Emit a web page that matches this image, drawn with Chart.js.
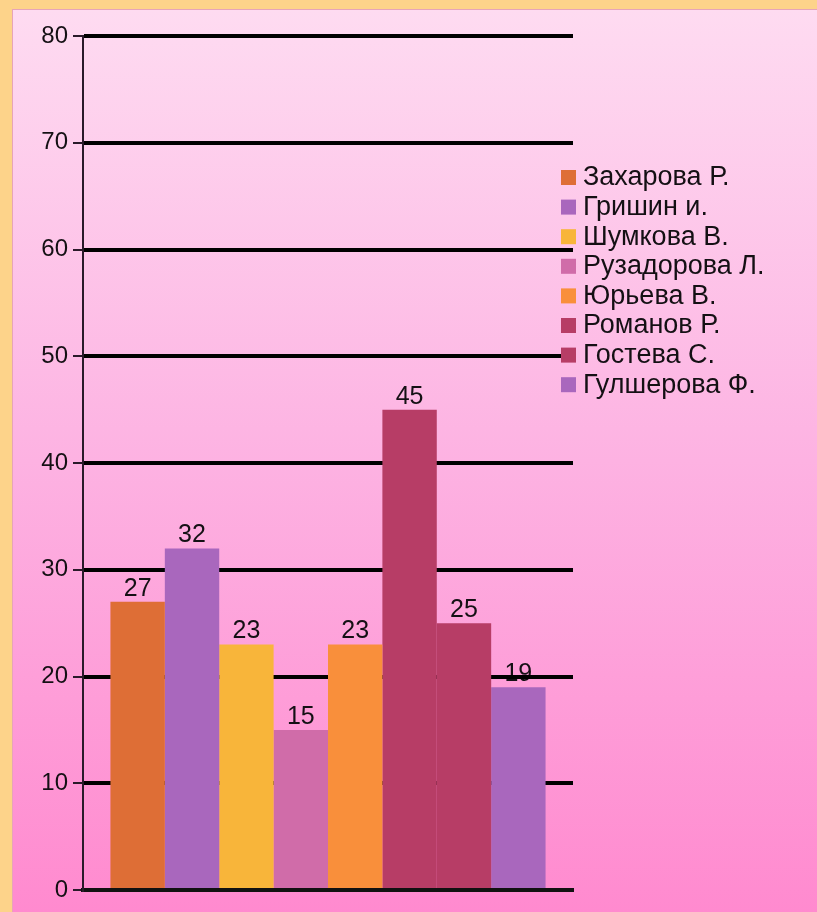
<!DOCTYPE html>
<html>
<head>
<meta charset="utf-8">
<script src="https://cdn.jsdelivr.net/npm/chart.js@4.4.1/dist/chart.umd.min.js"></script>
<style>
  html, body { margin: 0; padding: 0; }
  body { width: 817px; height: 912px; background: #fdd38a; position: relative; overflow: hidden; }
  #panel {
    position: absolute; left: 12px; top: 9px; right: 0; bottom: 0;
    background: linear-gradient(#fedbf1, #fdb2e2 50%, #ff8acf);
    border-left: 1px solid #e7a4b8; border-top: 1px solid #e7a4b8;
  }
  #chart { position: absolute; left: 0; top: 0; }
</style>
</head>
<body>
<div id="panel"></div>
<canvas id="chart" width="817" height="912"></canvas>
<script>
const names = ['Захарова Р.', 'Гришин и.', 'Шумкова В.', 'Рузадорова Л.', 'Юрьева В.', 'Романов Р.', 'Гостева С.', 'Гулшерова Ф.'];
const values = [27, 32, 23, 15, 23, 45, 25, 19];
const colors = ['#de6e36', '#a967bd', '#f8b53a', '#d06ca9', '#f98f3b', '#b73d66', '#b73d66', '#a967bd'];
const yMin = 0, yMax = 80, yStep = 10;

const font = 'Liberation Sans, Arial, sans-serif';

// value labels above bars (drawn before grid so lines pass over them like the original)
const valueLabels = {
    id: 'valueLabels',
    beforeDraw(chart) {
        const c = chart.ctx;
        c.save();
        c.font = '25px ' + font;
        c.fillStyle = '#141014';
        c.textAlign = 'center';
        c.textBaseline = 'alphabetic';
        chart.data.datasets.forEach((ds, i) => {
            chart.getDatasetMeta(i).data.forEach((bar, j) => {
                c.fillText(ds.data[j], bar.x, bar.y - 6);
            });
        });
        c.restore();
    }
};

// legend sits partly over the plot, so draw it by hand
const sideLegend = {
    id: 'sideLegend',
    afterDraw(chart) {
        const c = chart.ctx;
        const x = 561, y0 = 177, rowH = 29.6;
        c.save();
        c.font = '27px ' + font;
        c.textBaseline = 'middle';
        c.textAlign = 'left';
        chart.data.datasets.forEach((ds, i) => {
            const y = y0 + i * rowH;
            c.fillStyle = ds.backgroundColor;
            c.fillRect(x, y - 7, 15, 15);
            c.fillStyle = '#141014';
            c.fillText(ds.label, x + 22, y + 1);
        });
        c.restore();
    }
};

new Chart(document.getElementById('chart').getContext('2d'), {
    type: 'bar',
    data: {
        labels: [''],
        datasets: names.map((n, i) => ({
            label: n,
            data: [values[i]],
            backgroundColor: colors[i],
            borderWidth: 0,
            categoryPercentage: 0.888,
            barPercentage: 1
        }))
    },
    options: {
        responsive: false,
        animation: false,
        layout: { padding: { top: 36, right: 244, bottom: 22, left: 0 } },
        plugins: { legend: { display: false }, tooltip: { enabled: false } },
        scales: {
            x: {
                grid: { display: false },
                ticks: { display: false },
                border: { display: true, color: '#111', width: 4 },
                afterFit: s => { s.height = 0; }
            },
            y: {
                min: yMin,
                max: yMax,
                ticks: { stepSize: yStep, color: '#141014', font: { size: 24, family: font }, padding: 5 },
                grid: { color: '#000', lineWidth: 4, tickColor: '#2a1a2a', tickWidth: 2, tickLength: 10 },
                border: { display: true, color: '#2a1a2a', width: 2 },
                afterFit: s => { s.width = 83; }
            }
        }
    },
    plugins: [valueLabels, sideLegend]
});
</script>
</body>
</html>
